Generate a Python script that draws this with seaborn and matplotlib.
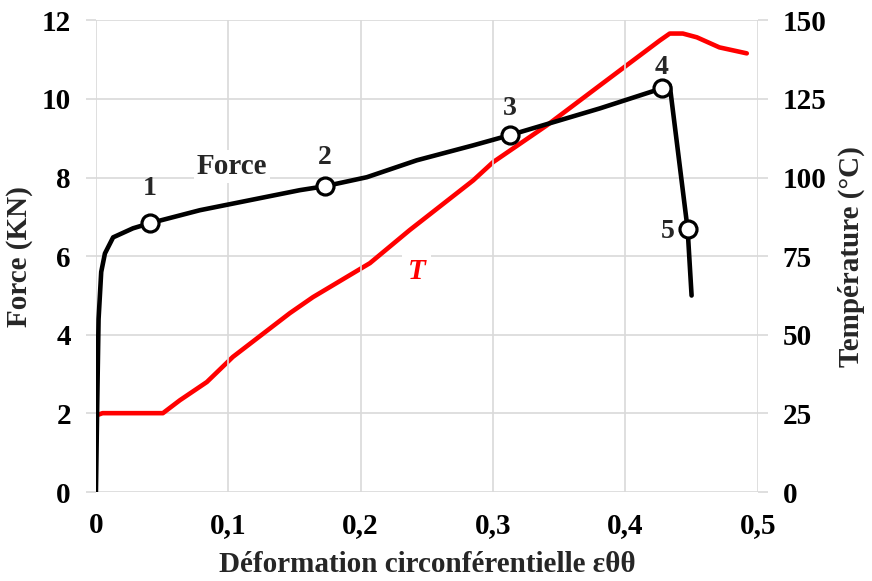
import pandas as pd
import seaborn as sns
import matplotlib.pyplot as plt

# force curve (KN) vs circumferential strain
force_eps = [0.0, 0.001, 0.002, 0.004, 0.0068, 0.013, 0.028, 0.0408, 0.0785, 0.154, 0.173,
             0.2047, 0.2424, 0.285, 0.3127, 0.3807, 0.4275, 0.4335, 0.447, 0.450]
force_val = [0.0, 2.3, 4.4, 5.6, 6.07, 6.48, 6.71, 6.84, 7.17, 7.68, 7.78,
             8.01, 8.44, 8.82, 9.08, 9.76, 10.27, 10.35, 6.69, 5.0]

# temperature curve (°C)
temp_eps = [0.001, 0.005, 0.0506, 0.0634, 0.0838, 0.1035, 0.1465, 0.164, 0.207, 0.237,
            0.285, 0.30, 0.3406, 0.3807, 0.426, 0.4335, 0.4434, 0.454, 0.471, 0.4917]
temp_val = [24.5, 25.1, 25.1, 29.2, 35.0, 43.0, 56.9, 62.0, 72.8, 83.3,
            99.1, 104.9, 116.6, 129.3, 143.6, 145.8, 145.8, 144.6, 141.4, 139.5]

# numbered points on the force curve
pt_labels = ['1', '2', '3', '4', '5']
pt_eps = [0.0408, 0.173, 0.3127, 0.4275, 0.447]
pt_force = [6.84, 7.78, 9.08, 10.27, 6.69]
# where the numbers sit
lab_eps = [0.0408, 0.173, 0.3127, 0.4275, 0.432]
lab_force = [7.73, 8.51, 9.76, 10.79, 6.64]

x_ticks = [0, 0.1, 0.2, 0.3, 0.4, 0.5]
x_tick_labels = ['0', '0,1', '0,2', '0,3', '0,4', '0,5']
f_ticks = [0, 2, 4, 6, 8, 10, 12]
t_ticks = [0, 25, 50, 75, 100, 125, 150]

df_f = pd.DataFrame({'eps': force_eps, 'F': force_val})
df_t = pd.DataFrame({'eps': temp_eps, 'T': temp_val})
df_p = pd.DataFrame({'eps': pt_eps, 'F': pt_force, 'lab': pt_labels})

sns.set_style('white')
plt.rcParams['font.family'] = ['Liberation Serif', 'DejaVu Serif']
plt.rcParams['font.weight'] = 'bold'
fs = 21

fig = plt.figure(figsize=(8.72, 5.81), dpi=100)
ax = fig.add_axes([0.110, 0.153, 0.759, 0.812])
ax2 = ax.twinx()

# horizontal grid on the lower (temperature) axes so it stays under the red curve
grid_c = '#d9d9d9'
ax2.grid(True, axis='y', color=grid_c, lw=1.2)
ax2.set_axisbelow(True)
ax.grid(True, axis='x', color=grid_c, lw=1.2)
ax.set_axisbelow(True)

sns.lineplot(data=df_t, x='eps', y='T', ax=ax2, sort=False, color='#ff0000', lw=3.3)
sns.lineplot(data=df_f, x='eps', y='F', ax=ax, sort=False, color='black', lw=3.3, zorder=3)
sns.scatterplot(data=df_p, x='eps', y='F', ax=ax, s=150, color='white',
                edgecolor='black', linewidth=2.3, zorder=4)

# force axes on top of the temperature axes
ax.set_zorder(ax2.get_zorder() + 1)
ax.patch.set_visible(False)

for e, f, lab in zip(lab_eps, lab_force, pt_labels):
    ax.text(e, f, lab, ha='center', va='center', fontsize=fs - 1, fontweight='bold')

ax.text(0.1027, 8.29, 'Force', fontsize=fs, fontweight='bold', ha='center', va='center',
        bbox=dict(facecolor='white', edgecolor='none', pad=2))
ax2.text(0.2424, 70.2, 'T', fontsize=fs, fontweight='bold', style='italic', color='#ff0000',
         ha='center', va='center', bbox=dict(facecolor='white', edgecolor='none', pad=4))

ax.set_xlim(0, 0.5)
ax.set_ylim(0, 12)
ax2.set_ylim(0, 150)
ax.set_xticks(x_ticks)
ax.set_xticklabels(x_tick_labels)
ax.set_yticks(f_ticks)
ax2.set_yticks(t_ticks)

for a in (ax, ax2):
    for s in a.spines.values():
        s.set_visible(False)
    a.tick_params(labelsize=fs, colors='black')

ax.tick_params(axis='y', length=7, color=grid_c, width=1.2, pad=11)
ax2.tick_params(axis='y', length=7, color=grid_c, width=1.2, pad=11)
ax.tick_params(axis='x', length=0, pad=14)

ax.set_xlabel('Déformation circonférentielle εθθ', fontsize=fs, fontweight='bold', labelpad=9)
ax.set_ylabel('Force (KN)', fontsize=fs, fontweight='bold', labelpad=6)
ax2.set_ylabel('Température (°C)', fontsize=fs, fontweight='bold', labelpad=8)

fig.savefig('out.png', dpi=100)
